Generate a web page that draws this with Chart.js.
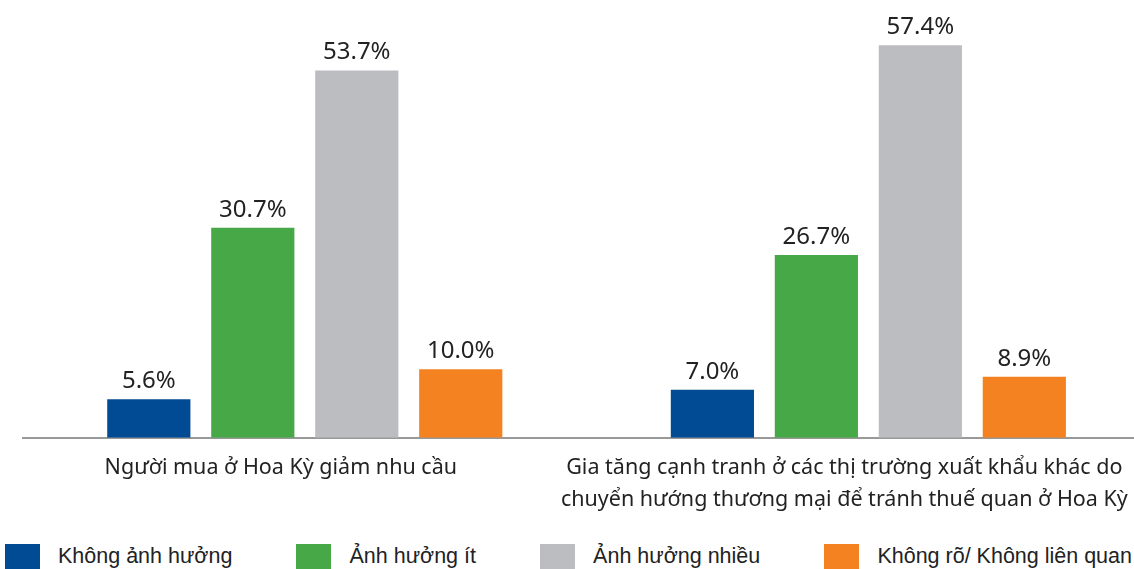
<!DOCTYPE html>
<html>
	<head>
		<meta charset="UTF-8" />
		<title>Chart</title>
		<style type="text/css">
html, body { margin: 0; padding: 0; background: #fff; overflow: hidden; }
.chartBox { position: relative; width: 1168px; height: 530px; }
.legend { display: flex; justify-content: space-between; width: 1127px; padding-left: 5px; margin-top: 14px;
	font-family: "Liberation Sans", Arial, sans-serif; font-size: 21.5px; color: #222; }
.legend span.item { display: flex; align-items: center; }
.legend span.box { display: inline-block; width: 35px; height: 25px; margin-right: 18px; }
		</style>
	</head>
	<body>
		<script src="https://cdn.jsdelivr.net/npm/chart.js@4"></script>
		<div class="chartBox">
			<canvas id="myChart" width="1168" height="530"></canvas>
		</div>
		<div class="legend" id="legend"></div>
		<script charset="utf-8">
			const categories = [
				'Người mua ở Hoa Kỳ giảm nhu cầu',
				['Gia tăng cạnh tranh ở các thị trường xuất khẩu khác do', 'chuyển hướng thương mại để tránh thuế quan ở Hoa Kỳ']
			];
			const seriesNames = ['Không ảnh hưởng', 'Ảnh hưởng ít', 'Ảnh hưởng nhiều', 'Không rõ/ Không liên quan'];
			const khongAnhHuong = [5.6, 7.0];
			const anhHuongIt = [30.7, 26.7];
			const anhHuongNhieu = [53.7, 57.4];
			const khongRo = [10.0, 8.9];
			const colors = ['#004B93', '#47A847', '#BCBDC0', '#F58220'];

			const seriesValues = [khongAnhHuong, anhHuongIt, anhHuongNhieu, khongRo];

			const data = {
				labels: categories,
				datasets: seriesValues.map((vals, i) => ({
					label: seriesNames[i],
					backgroundColor: colors[i],
					data: vals,
					barPercentage: 0.80,
					categoryPercentage: 0.738
				}))
			};

			// value labels above each bar
			const valueLabels = {
				id: 'valueLabels',
				afterDatasetsDraw(chart) {
					const ctx = chart.ctx;
					ctx.save();
					ctx.font = '24px "Noto Sans", sans-serif';
					ctx.fillStyle = '#222';
					ctx.textAlign = 'center';
					ctx.textBaseline = 'alphabetic';
					chart.data.datasets.forEach((ds, i) => {
						chart.getDatasetMeta(i).data.forEach((bar, j) => {
							ctx.fillText(ds.data[j].toFixed(1) + '%', bar.x, bar.y - 11);
						});
					});
					ctx.restore();
				}
			};

			const config = {
				type: 'bar',
				data,
				plugins: [valueLabels],
				options: {
					responsive: false,
					animation: false,
					layout: { padding: { left: 23, right: 5, top: 0, bottom: 0 } },
					plugins: {
						legend: { display: false },
						tooltip: { enabled: false }
					},
					scales: {
						x: {
							grid: { display: false, drawTicks: false },
							border: { color: '#999', width: 2 },
							ticks: {
								color: '#222',
								padding: 15,
								labelOffset: -24,
								maxRotation: 0,
								autoSkip: false,
								font: { family: '"Noto Sans", sans-serif', size: 21.5, lineHeight: 1.45 }
							}
						},
						y: {
							display: false,
							min: 0,
							max: 64
						}
					}
				}
			};

			var ctx = document.getElementById('myChart').getContext('2d');
			var myChart = new Chart(ctx, config);

			var legend = document.getElementById('legend');
			seriesNames.forEach((name, i) => {
				var item = document.createElement('span');
				item.className = 'item';
				item.innerHTML = '<span class="box" style="background:' + colors[i] + '"></span>' + name;
				legend.appendChild(item);
			});
		</script>
	</body>
</html>
